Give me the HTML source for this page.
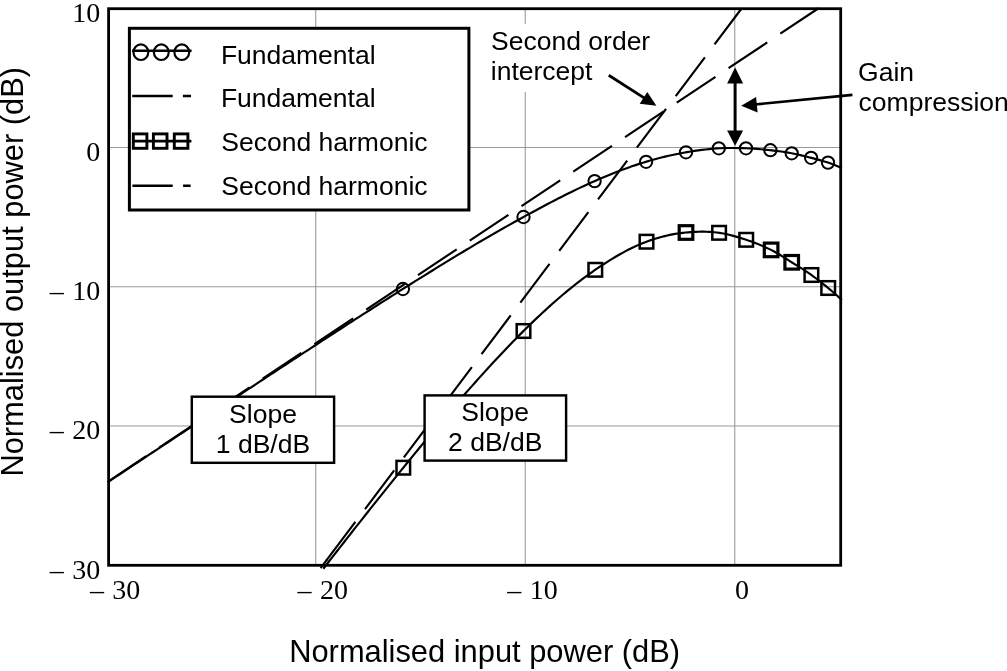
<!DOCTYPE html>
<html lang="en"><head><meta charset="utf-8"><title>Normalised output power vs input power</title>
<style>html,body{margin:0;padding:0;background:#fff}svg{display:block}text{fill:#000}.s{font-family:"Liberation Sans",Arial,Helvetica,sans-serif}.t{font-family:"Liberation Serif","Times New Roman",Times,serif;font-size:28px;word-spacing:1.4px}</style></head><body>
<svg width="1007" height="671" viewBox="0 0 1007 671">
<rect width="1007" height="671" fill="#fff"/>
<g stroke="#9a9a9a" stroke-width="1.1" fill="none">
<line x1="315.75" y1="8.7" x2="315.75" y2="565.3"/>
<line x1="525.25" y1="8.7" x2="525.25" y2="565.3"/>
<line x1="734.75" y1="8.7" x2="734.75" y2="565.3"/>
<line x1="108.6" y1="147.50" x2="840.7" y2="147.50"/>
<line x1="108.6" y1="286.75" x2="840.7" y2="286.75"/>
<line x1="108.6" y1="426.00" x2="840.7" y2="426.00"/>
</g>
<rect x="488" y="24" width="166" height="68" fill="#fff"/>
<g fill="none" stroke="#000" stroke-width="2.15">
<path d="M108.60,481.58 L112.28,479.13 L115.97,476.69 L119.65,474.24 L123.34,471.80 L127.02,469.36 L130.71,466.91 L134.39,464.47 L138.08,462.03 L141.76,459.59 L145.45,457.15 L149.13,454.70 L152.82,452.26 L156.50,449.82 L160.19,447.38 L163.87,444.94 L167.56,442.50 L171.24,440.06 L174.93,437.62 L178.61,435.18 L182.30,432.75 L185.98,430.31 L189.67,427.87 L193.35,425.43 L197.04,423.00 L200.72,420.56 L204.41,418.13 L208.09,415.69 L211.78,413.26 L215.46,410.82 L219.15,408.39 L222.83,405.96 L226.52,403.53 L230.20,401.10 L233.89,398.67 L237.57,396.24 L241.26,393.81 L244.94,391.38 L248.63,388.96 L252.31,386.53 L256.00,384.11 L259.68,381.68 L263.37,379.26 L267.05,376.84 L270.74,374.42 L274.42,372.00 L278.11,369.58 L281.79,367.17 L285.48,364.75 L289.16,362.34 L292.85,359.92 L296.53,357.51 L300.22,355.10 L303.90,352.70 L307.59,350.29 L311.27,347.89 L314.96,345.49 L318.64,343.09 L322.33,340.69 L326.01,338.29 L329.70,335.90 L333.38,333.51 L337.07,331.12 L340.75,328.73 L344.44,326.34 L348.12,323.96 L351.81,321.58 L355.49,319.21 L359.17,316.83 L362.86,314.46 L366.54,312.10 L370.23,309.73 L373.91,307.37 L377.60,305.02 L381.28,302.67 L384.97,300.32 L388.65,297.97 L392.34,295.63 L396.02,293.30 L399.71,290.96 L403.39,288.64 L407.08,286.32 L410.76,284.00 L414.45,281.69 L418.13,279.38 L421.82,277.08 L425.50,274.79 L429.19,272.50 L432.87,270.22 L436.56,267.95 L440.24,265.68 L443.93,263.42 L447.61,261.16 L451.30,258.92 L454.98,256.68 L458.67,254.45 L462.35,252.23 L466.04,250.02 L469.72,247.82 L473.41,245.63 L477.09,243.45 L480.78,241.27 L484.46,239.11 L488.15,236.96 L491.83,234.83 L495.52,232.70 L499.20,230.59 L502.89,228.49 L506.57,226.40 L510.26,224.33 L513.94,222.27 L517.63,220.22 L521.31,218.19 L525.00,216.18 L528.68,214.17 L532.37,212.18 L536.05,210.19 L539.74,208.21 L543.42,206.25 L547.11,204.30 L550.79,202.37 L554.48,200.45 L558.16,198.55 L561.85,196.68 L565.53,194.82 L569.22,192.99 L572.90,191.18 L576.59,189.39 L580.27,187.64 L583.96,185.91 L587.64,184.21 L591.33,182.55 L595.01,180.92 L598.69,179.32 L602.38,177.75 L606.06,176.21 L609.75,174.70 L613.43,173.22 L617.12,171.77 L620.80,170.36 L624.49,168.99 L628.17,167.66 L631.86,166.36 L635.54,165.11 L639.23,163.89 L642.91,162.72 L646.60,161.60 L650.28,160.52 L653.97,159.49 L657.65,158.49 L661.34,157.54 L665.02,156.64 L668.71,155.78 L672.39,154.96 L676.08,154.18 L679.76,153.45 L683.45,152.75 L687.13,152.10 L690.82,151.49 L694.50,150.92 L698.19,150.38 L701.87,149.89 L705.56,149.45 L709.24,149.06 L712.93,148.72 L716.61,148.44 L720.30,148.22 L723.98,148.07 L727.67,147.99 L731.35,147.96 L735.04,147.99 L738.72,148.06 L742.41,148.16 L746.09,148.30 L749.78,148.47 L753.46,148.69 L757.15,148.94 L760.83,149.23 L764.52,149.57 L768.20,149.95 L771.89,150.38 L775.57,150.82 L779.26,151.29 L782.94,151.80 L786.63,152.38 L790.31,153.03 L794.00,153.77 L797.68,154.56 L801.37,155.39 L805.05,156.27 L808.74,157.19 L812.42,158.15 L816.11,159.14 L819.79,160.16 L823.48,161.22 L827.16,162.34 L830.85,163.56 L834.53,164.97 L838.22,166.52 L841.90,168.05"/>
<path d="M323.32,568.73 L325.93,565.38 L328.54,562.03 L331.14,558.68 L333.75,555.33 L336.35,551.99 L338.96,548.66 L341.57,545.32 L344.17,541.99 L346.78,538.67 L349.38,535.34 L351.99,532.03 L354.59,528.71 L357.20,525.40 L359.81,522.10 L362.41,518.80 L365.02,515.50 L367.62,512.21 L370.23,508.92 L372.84,505.64 L375.44,502.36 L378.05,499.09 L380.65,495.83 L383.26,492.57 L385.87,489.31 L388.47,486.06 L391.08,482.82 L393.68,479.58 L396.29,476.36 L398.90,473.13 L401.50,469.92 L404.11,466.70 L406.71,463.49 L409.32,460.28 L411.92,457.08 L414.53,453.89 L417.14,450.71 L419.74,447.53 L422.35,444.37 L424.95,441.21 L427.56,438.06 L430.17,434.92 L432.77,431.79 L435.38,428.67 L437.98,425.56 L440.59,422.46 L443.20,419.37 L445.80,416.29 L448.41,413.22 L451.01,410.16 L453.62,407.12 L456.23,404.08 L458.83,401.06 L461.44,398.06 L464.04,395.06 L466.65,392.08 L469.25,389.11 L471.86,386.15 L474.47,383.21 L477.07,380.28 L479.68,377.37 L482.28,374.48 L484.89,371.60 L487.50,368.73 L490.10,365.88 L492.71,363.05 L495.31,360.23 L497.92,357.44 L500.53,354.66 L503.13,351.90 L505.74,349.16 L508.34,346.43 L510.95,343.73 L513.56,341.05 L516.16,338.38 L518.77,335.74 L521.37,333.12 L523.98,330.52 L526.58,327.95 L529.19,325.40 L531.80,322.87 L534.40,320.36 L537.01,317.88 L539.61,315.42 L542.22,312.99 L544.83,310.59 L547.43,308.21 L550.04,305.85 L552.64,303.53 L555.25,301.23 L557.86,298.96 L560.46,296.72 L563.07,294.51 L565.67,292.33 L568.28,290.18 L570.89,288.06 L573.49,285.97 L576.10,283.92 L578.70,281.89 L581.31,279.90 L583.91,277.94 L586.52,276.02 L589.13,274.13 L591.73,272.28 L594.34,270.46 L596.94,268.68 L599.55,266.92 L602.16,265.19 L604.76,263.49 L607.37,261.82 L609.97,260.19 L612.58,258.59 L615.19,257.02 L617.79,255.50 L620.40,254.01 L623.00,252.57 L625.61,251.16 L628.22,249.81 L630.82,248.50 L633.43,247.24 L636.03,246.03 L638.64,244.87 L641.24,243.76 L643.85,242.71 L646.46,241.72 L649.06,240.77 L651.67,239.88 L654.27,239.03 L656.88,238.22 L659.49,237.47 L662.09,236.76 L664.70,236.10 L667.30,235.49 L669.91,234.92 L672.52,234.40 L675.12,233.93 L677.73,233.51 L680.33,233.14 L682.94,232.82 L685.55,232.54 L688.15,232.31 L690.76,232.11 L693.36,231.94 L695.97,231.81 L698.57,231.72 L701.18,231.68 L703.79,231.68 L706.39,231.73 L709.00,231.83 L711.60,232.00 L714.21,232.22 L716.82,232.50 L719.42,232.85 L722.03,233.27 L724.63,233.76 L727.24,234.32 L729.85,234.94 L732.45,235.62 L735.06,236.34 L737.66,237.10 L740.27,237.90 L742.88,238.72 L745.48,239.56 L748.09,240.43 L750.69,241.34 L753.30,242.28 L755.90,243.27 L758.51,244.29 L761.12,245.37 L763.72,246.48 L766.33,247.65 L768.93,248.86 L771.54,250.12 L774.15,251.48 L776.75,252.95 L779.36,254.51 L781.96,256.13 L784.57,257.78 L787.18,259.45 L789.78,261.10 L792.39,262.72 L794.99,264.33 L797.60,265.93 L800.21,267.56 L802.81,269.21 L805.42,270.90 L808.02,272.64 L810.63,274.45 L813.23,276.33 L815.84,278.25 L818.45,280.22 L821.05,282.23 L823.66,284.30 L826.26,286.40 L828.87,288.56 L831.48,290.76 L834.08,293.00 L836.69,295.30 L839.29,297.63 L841.90,300.03"/>
<path d="M107.40,482.05 L818.55,8.25" stroke-dasharray="46.5 15.7"/>
<path d="M326.20,560.68 L741.77,8.25" stroke-dasharray="48.5 16.1"/>
<path d="M320.67,568.04 L326.80,559.88"/>
</g>
<g fill="none" stroke="#000" stroke-width="2">
<circle cx="402.9" cy="289.0" r="6.15"/>
<circle cx="523.5" cy="217.0" r="6.15"/>
<circle cx="594.6" cy="181.1" r="6.15"/>
<circle cx="646.1" cy="161.8" r="6.15"/>
<circle cx="686.0" cy="152.3" r="6.15"/>
<circle cx="718.8" cy="148.3" r="6.15"/>
<circle cx="746.0" cy="148.3" r="6.15"/>
<circle cx="770.4" cy="150.2" r="6.15"/>
<circle cx="791.7" cy="153.3" r="6.15"/>
<circle cx="811.1" cy="157.8" r="6.15"/>
<circle cx="828.0" cy="162.6" r="6.15"/>
</g>
<g fill="none" stroke="#000" stroke-width="2.5">
<rect x="396.5" y="460.9" width="13.6" height="13.6"/>
<rect x="516.7" y="324.2" width="13.6" height="13.6"/>
<rect x="588.5" y="263.0" width="13.6" height="13.6"/>
<rect x="639.7" y="234.9" width="13.6" height="13.6"/>
<rect x="679.2" y="225.7" width="13.6" height="13.6" stroke-width="3.2"/>
<rect x="712.3" y="226.0" width="13.6" height="13.6"/>
<rect x="739.4" y="233.0" width="13.6" height="13.6"/>
<rect x="764.3" y="243.1" width="13.6" height="13.6" stroke-width="3.2"/>
<rect x="784.9" y="255.5" width="13.6" height="13.6" stroke-width="3.2"/>
<rect x="804.6" y="268.2" width="13.6" height="13.6"/>
<rect x="821.4" y="281.2" width="13.6" height="13.6"/>
</g>
<rect x="108.6" y="8.7" width="732.1" height="556.6" fill="none" stroke="#000" stroke-width="2.8"/>
<rect x="129.4" y="28.3" width="339.5" height="181.7" fill="#fff" stroke="#000" stroke-width="3"/>
<g fill="none" stroke="#000">
<line x1="132" y1="50.8" x2="191.6" y2="50.8" stroke-width="2.4"/>
<ellipse cx="140.9" cy="52.2" rx="7.4" ry="7.8" stroke-width="2.2"/>
<ellipse cx="161.3" cy="52.2" rx="7.4" ry="7.8" stroke-width="2.2"/>
<ellipse cx="181.8" cy="52.2" rx="7.4" ry="7.8" stroke-width="2.2"/>
<path d="M132.2,96 H172.7 M182.9,96 H191" stroke-width="2.4"/>
<line x1="132" y1="141.1" x2="191.4" y2="141.1" stroke-width="2.6"/>
<rect x="133.3" y="133.9" width="13.6" height="14.4" stroke-width="2.9"/>
<rect x="153.4" y="133.9" width="13.6" height="14.4" stroke-width="2.9"/>
<rect x="174.3" y="133.9" width="13.6" height="14.4" stroke-width="2.9"/>
<path d="M132.4,185.8 H172.7 M183.1,185.8 H190.6" stroke-width="2.5"/>
</g>
<g class="s" font-size="26.5">
<text x="220.9" y="63.6">Fundamental</text>
<text x="220.9" y="107.4">Fundamental</text>
<text x="221.3" y="151.4">Second harmonic</text>
<text x="221.3" y="195.2">Second harmonic</text>
<text x="491.1" y="50.2">Second order</text>
<text x="490.8" y="80.3">intercept</text>
<text x="858.1" y="81.3">Gain</text>
<text x="858.6" y="111.2">compression</text>
</g>
<g fill="#fff" stroke="#000" stroke-width="2.45">
<rect x="191.8" y="396.7" width="142.3" height="66.1"/>
<rect x="424.6" y="395.4" width="141.5" height="65.2"/>
</g>
<g class="s" font-size="26.5" text-anchor="middle">
<text x="263" y="422.7">Slope</text>
<text x="263" y="452.6">1 dB/dB</text>
<text x="495.2" y="420.6">Slope</text>
<text x="495.2" y="451.1">2 dB/dB</text>
</g>
<g stroke="#000" fill="#000">
<line x1="735.1" y1="80" x2="735.1" y2="134" stroke-width="3"/>
<path d="M735.1,67.4 L743.1,83.4 L727.1,83.4 Z" stroke="none"/>
<path d="M735.1,145.8 L743.1,130.4 L727.1,130.4 Z" stroke="none"/>
<line x1="852.4" y1="94.9" x2="752" y2="104.74" stroke-width="2.7"/>
<path d="M741.2,105.8 L756.1,97.0 L757.6,112.6 Z" stroke="none"/>
<line x1="608.7" y1="75.2" x2="648" y2="100.4" stroke-width="2.8"/>
<path d="M656.4,105.8 L647.3,91.9 L639.7,103.7 Z" stroke="none"/>
</g>
<g class="t">
<text x="100.2" y="21.6" text-anchor="end">10</text>
<text x="100.2" y="160.8" text-anchor="end">0</text>
<text x="100.2" y="300.1" text-anchor="end">– 10</text>
<text x="100.2" y="439.3" text-anchor="end">– 20</text>
<text x="100.2" y="578.5" text-anchor="end">– 30</text>
<text x="140.3" y="599.1" text-anchor="end">– 30</text>
<text x="348.0" y="599.1" text-anchor="end">– 20</text>
<text x="557.7" y="599.1" text-anchor="end">– 10</text>
<text x="749.1" y="599.1" text-anchor="end">0</text>
</g>
<text class="s" font-size="30.85" x="289.2" y="661.6">Normalised input power (dB)</text>
<text class="s" font-size="30.85" transform="translate(22.8,476.6) rotate(-90)">Normalised output power (dB)</text>
</svg></body></html>
